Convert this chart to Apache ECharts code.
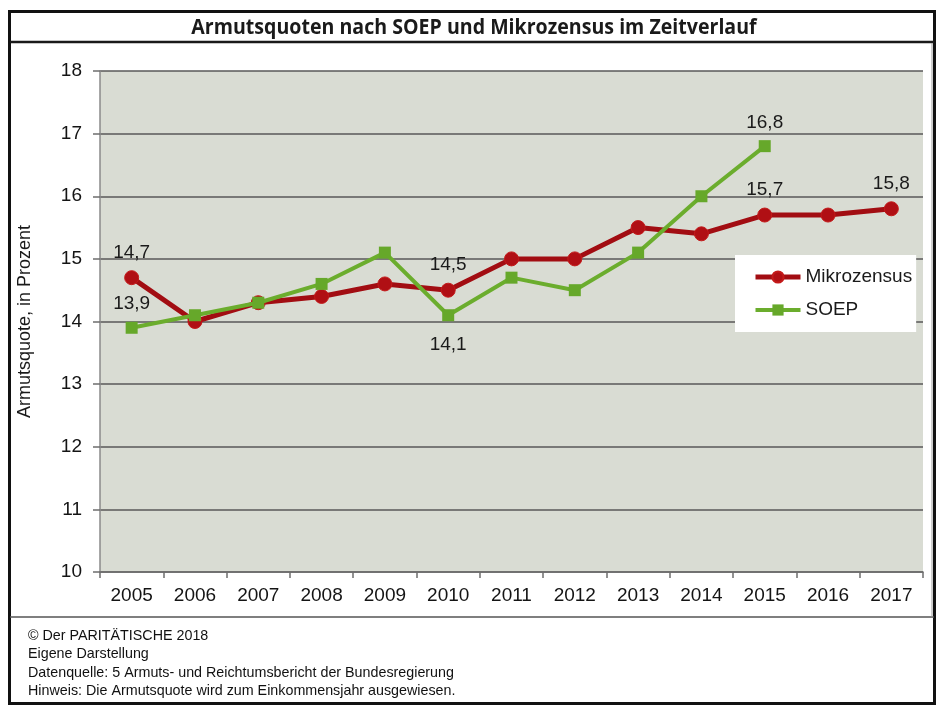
<!DOCTYPE html>
<html>
<head>
<meta charset="utf-8">
<script src="https://cdn.jsdelivr.net/npm/echarts@6/dist/echarts.min.js"></script>
<style>
  html, body { margin: 0; padding: 0; background: #ffffff; }
  #chart { width: 940px; height: 711px; }
</style>
</head>
<body>
<div id="chart"></div>
<script>
// Armutsquoten in Prozent, Einkommensjahre 2005-2017
const years = ['2005', '2006', '2007', '2008', '2009', '2010', '2011', '2012', '2013', '2014', '2015', '2016', '2017'];
const mikrozensus = [14.7, 14.0, 14.3, 14.4, 14.6, 14.5, 15.0, 15.0, 15.5, 15.4, 15.7, 15.7, 15.8];
const soep = [13.9, 14.1, 14.3, 14.6, 15.1, 14.1, 14.7, 14.5, 15.1, 16.0, 16.8];
const yTicks = [10, 11, 12, 13, 14, 15, 16, 17, 18];

// which points carry a value label, and on which side
const mikroLabels = { 0: 'top', 5: 'top', 10: 'top', 12: 'top' };
const soepLabels = { 0: 'top', 5: 'bottom', 10: 'top' };

const footerLines = [
  '\u00A9 Der PARIT\u00C4TISCHE 2018',
  'Eigene Darstellung',
  'Datenquelle: 5 Armuts- und Reichtumsbericht der Bundesregierung',
  'Hinweis: Die Armutsquote wird zum Einkommensjahr ausgewiesen.'
];

const FONT = '"Liberation Sans", Arial, sans-serif';
const fmt = v => String(v).replace('.', ',');

function withLabels(values, labelMap) {
  return values.map((v, i) => {
    const pos = labelMap[i];
    if (!pos) return v;
    return {
      value: v,
      label: {
        show: true,
        position: pos,
        distance: pos === 'top' ? 8 : 14,
        formatter: p => fmt(p.value),
        fontFamily: FONT,
        fontSize: 19,
        color: '#1a1a1a'
      }
    };
  });
}

const chart = echarts.init(document.getElementById('chart'), null, { renderer: 'canvas' });

const graphics = [
  // outer frame
  { type: 'rect', shape: { x: 9.5, y: 11.5, width: 925, height: 692 }, style: { fill: '#ffffff', stroke: '#111111', lineWidth: 3 }, z: -10 },
  // title separator
  { type: 'line', shape: { x1: 10, y1: 42, x2: 934, y2: 42 }, style: { stroke: '#1a1a1a', lineWidth: 2.5 }, z: -9 },
  // footer separator
  { type: 'line', shape: { x1: 10, y1: 617, x2: 934, y2: 617 }, style: { stroke: '#555555', lineWidth: 1.5 }, z: -9 },
  // right edge of the chart area
  { type: 'line', shape: { x1: 932, y1: 43, x2: 932, y2: 617 }, style: { stroke: '#9a9a9a', lineWidth: 1 }, z: -9 },
  // title, condensed horizontally
  {
    type: 'text', x: 474, y: 28, scaleX: 0.89, scaleY: 1,
    style: {
      text: 'Armutsquoten nach SOEP und Mikrozensus im Zeitverlauf',
      fontFamily: '"Open Sans", sans-serif', fontWeight: 'bold', fontSize: 22,
      fill: '#1a1a1a', align: 'center', verticalAlign: 'middle'
    }
  }
];
footerLines.forEach((t, i) => {
  graphics.push({
    type: 'text', left: 28, top: 629 + i * 18.3,
    style: { text: t, fontFamily: FONT, fontSize: 14.3, fill: '#111111' }
  });
});

chart.setOption({
  animation: false,
  backgroundColor: '#ffffff',
  graphic: graphics,
  grid: {
    left: 100, right: 17, top: 71, bottom: 139,
    show: true, backgroundColor: '#d9dcd3', borderWidth: 0
  },
  legend: {
    orient: 'vertical',
    left: 735, top: 255,
    backgroundColor: '#ffffff',
    padding: [12, 4, 12, 18],
    itemWidth: 45, itemHeight: 14, itemGap: 13, itemTextGap: 2,
    textStyle: { fontFamily: FONT, fontSize: 19, color: '#1a1a1a', lineHeight: 20 },
    data: [
      { name: 'Mikrozensus', itemStyle: { color: '#b00f14' }, lineStyle: { color: '#a20d12', width: 5 } },
      { name: 'SOEP', itemStyle: { color: '#66a82a' }, lineStyle: { color: '#6bad2d', width: 4 } }
    ]
  },
  xAxis: {
    type: 'category',
    data: years,
    boundaryGap: true,
    axisLine: { lineStyle: { color: '#6d6d6d', width: 1.5 } },
    axisTick: { show: true, length: 6, alignWithLabel: false, lineStyle: { color: '#6d6d6d', width: 1.5 } },
    axisLabel: { margin: 14, fontFamily: FONT, fontSize: 19, color: '#141414' }
  },
  yAxis: {
    type: 'value',
    min: yTicks[0], max: yTicks[yTicks.length - 1], interval: 1,
    name: 'Armutsquote, in Prozent',
    nameLocation: 'middle',
    nameGap: 66,
    nameTextStyle: { fontFamily: FONT, fontSize: 18, color: '#1a1a1a' },
    axisLine: { show: true, lineStyle: { color: '#8a8a8a', width: 1.5 } },
    axisTick: { show: true, length: 7, lineStyle: { color: '#6d6d6d', width: 1.5 } },
    axisLabel: { margin: 18, fontFamily: FONT, fontSize: 19, color: '#141414' },
    splitLine: { show: true, lineStyle: { color: '#595959', width: 1.5 } }
  },
  series: [
    {
      name: 'Mikrozensus',
      type: 'line',
      data: withLabels(mikrozensus, mikroLabels),
      symbol: 'circle',
      symbolSize: 14,
      lineStyle: { color: '#a20d12', width: 5 },
      itemStyle: { color: '#b00f14', borderColor: '#c41a1a', borderWidth: 1 },
      z: 3
    },
    {
      name: 'SOEP',
      type: 'line',
      data: withLabels(soep, soepLabels),
      symbol: 'rect',
      symbolSize: 12,
      lineStyle: { color: '#6bad2d', width: 4 },
      itemStyle: { color: '#66a82a' },
      z: 4
    }
  ]
});
</script>
</body>
</html>
